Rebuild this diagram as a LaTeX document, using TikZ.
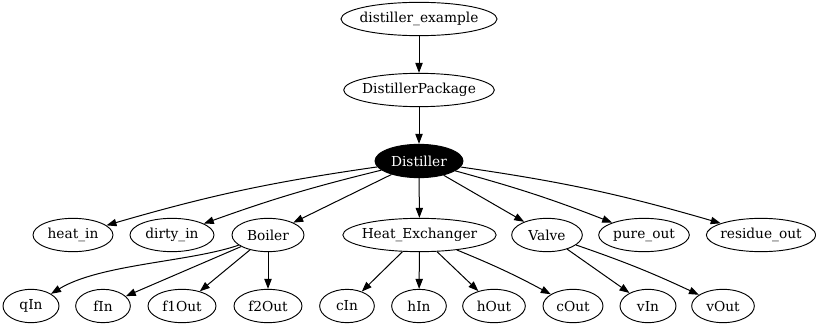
\documentclass[tikz,border=0pt]{standalone}
\usepackage{fontspec}
\setmainfont{DejaVu Serif}
\usetikzlibrary{shapes.geometric,arrows.meta}
\begin{document}
\begin{tikzpicture}[x=0.75pt,y=-0.75pt,
  gnode/.style={ellipse,draw,line width=0.7pt,inner xsep=-4pt,inner ysep=0pt,minimum height=25pt,font=\fontsize{10.3}{12}\selectfont},
  dark/.style={gnode,fill=black,text=white},
  edge/.style={line width=0.75pt,-{Triangle[length=7.5pt,width=5.5pt]}}]
\useasboundingbox (0,0) rectangle (816,328);
% top chain
\node[gnode,minimum width=117pt] (ex) at (419,19) {distiller\_example};
\node[gnode,minimum width=113pt] (pkg) at (419,90) {DistillerPackage};
\node[dark,minimum width=66pt] (dist) at (419,161) {Distiller};
% ports and components of the distiller
\node[gnode,minimum width=60pt] (heat) at (73,235) {heat\_in};
\node[gnode,minimum width=63pt] (dirty) at (172,235) {dirty\_in};
\node[gnode,minimum width=54pt] (boil) at (268,235) {Boiler};
\node[gnode,minimum width=115pt] (hx) at (419.5,235) {Heat\_Exchanger};
\node[gnode,minimum width=53pt] (valve) at (547,235) {Valve};
\node[gnode,minimum width=68pt] (pure) at (644,235) {pure\_out};
\node[gnode,minimum width=82pt] (res) at (761,235) {residue\_out};
% ports of the components
\node[gnode,minimum width=42pt] (qin) at (31,306) {qIn};
\node[gnode,minimum width=41pt] (fin) at (103,306) {fIn};
\node[gnode,minimum width=51pt] (f1) at (182,306) {f1Out};
\node[gnode,minimum width=51pt] (f2) at (268,306) {f2Out};
\node[gnode,minimum width=41pt] (cin) at (347,306) {cIn};
\node[gnode,minimum width=41pt] (hin) at (419,306) {hIn};
\node[gnode,minimum width=47pt] (hout) at (494,306) {hOut};
\node[gnode,minimum width=45pt] (cout) at (573,306) {cOut};
\node[gnode,minimum width=42pt] (vin) at (648,306) {vIn};
\node[gnode,minimum width=47pt] (vout) at (723,306) {vOut};
% edges
\draw[edge] (ex) -- (pkg);
\draw[edge] (pkg) -- (dist);
\draw[edge] (dist) to[bend right=4] (heat);
\draw[edge] (dist) to[bend right=3] (dirty);
\draw[edge] (dist) -- (boil);
\draw[edge] (dist) -- (hx);
\draw[edge] (dist) -- (valve);
\draw[edge] (dist) to[bend left=3] (pure);
\draw[edge] (dist) to[bend left=4] (res);
\draw[edge] (boil) .. controls (190,262) and (100,264) .. (qin);
\draw[edge] (boil) -- (fin);
\draw[edge] (boil) -- (f1);
\draw[edge] (boil) -- (f2);
\draw[edge] (hx) -- (cin);
\draw[edge] (hx) -- (hin);
\draw[edge] (hx) -- (hout);
\draw[edge] (hx) to[bend left=3] (cout);
\draw[edge] (valve) -- (vin);
\draw[edge] (valve) to[bend left=3] (vout);
\end{tikzpicture}
\end{document}
